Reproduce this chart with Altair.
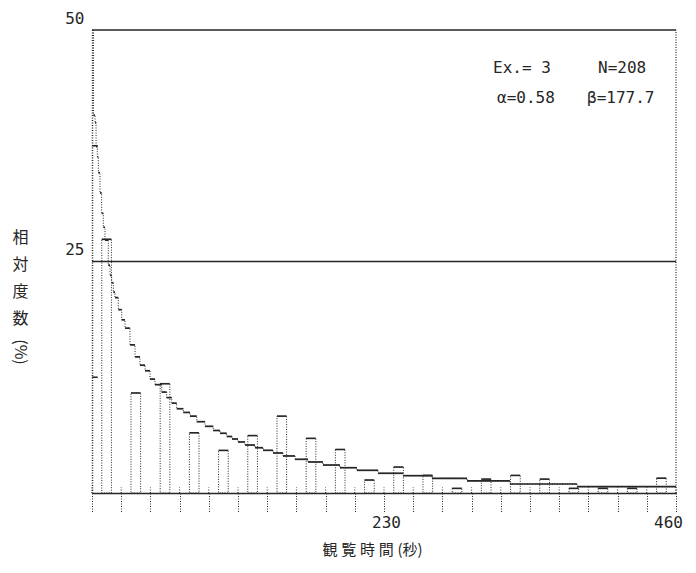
import altair as alt
import pandas as pd

# ---------------- data ----------------
# observed histogram: 23-second classes, drawn as narrow bars at class mid-points
bar_center_s = [11.5, 34.5, 57.5, 80.5, 103.5, 126.5, 149.5, 172.5, 195.5, 218.5,
                241.5, 264.5, 287.5, 310.5, 333.5, 356.5, 379.5, 402.5, 425.5, 448.5]
bar_pct = [27.4, 10.8, 11.8, 6.5, 4.6, 6.2, 8.3, 5.9, 4.7, 1.4,
           2.8, 1.9, 0.5, 1.5, 1.9, 1.5, 0.5, 0.5, 0.5, 1.6]

# fitted curve (plotter staircase) read point by point
curve_s = [1.2, 1.2, 2.4, 3.2, 4.2, 5.0, 6.3, 7.6, 8.9, 10.2,
           12.8, 14.2, 15.5, 16.8, 18.1, 20.7, 23.4, 26.0, 29.9, 33.9,
           37.8, 41.8, 45.7, 49.6, 54.9, 58.8, 62.8, 66.7, 71.9, 77.2,
           82.5, 89.0, 95.5, 100.8, 106.1, 110.3, 115.0, 120.5, 128.4, 134.7,
           142.6, 150.4, 159.9, 170.1, 181.9, 195.3, 208.7, 225.3, 245.0, 267.8,
           295.4, 329.2, 382.0, 460.0]
curve_pct = [50.0, 40.8, 40.0, 37.4, 36.3, 34.6, 32.4, 30.2, 28.7, 27.3,
             24.6, 23.5, 22.7, 21.7, 21.1, 19.8, 18.7, 17.8, 16.0, 14.7,
             13.8, 13.2, 12.3, 11.7, 10.9, 10.3, 9.7, 9.1, 8.7, 8.3,
             7.7, 7.2, 6.75, 6.45, 6.1, 5.83, 5.51, 5.18, 4.89, 4.61,
             4.32, 4.0, 3.64, 3.35, 3.02, 2.73, 2.45, 2.13, 1.87, 1.59,
             1.30, 0.97, 0.68, 0.68]

x_tick_s = [0, 23, 46, 69, 92, 115, 138, 161, 184, 207, 230,
            253, 276, 299, 322, 345, 368, 391, 414, 437, 460]
x_label_s = [230, 460]
y_label_pct = [25, 50]
y_minor_pct = [12.5, 37.5]
frame_pct = [25, 50]
x_max = 460
y_max = 50

title_x = "観\u2005覧\u2005時\u2005間\u2005(秒)"
title_y = ["相", "対", "度", "数"]
title_y_unit = ["(%)"]
ann_text = ["Ex.= 3", "N=208", "α=0.58", "β=177.7"]

# ---------------- styles ----------------
BAR_HALF = 3.8
INK = "#262626"
MONO = "DejaVu Sans Mono"
CJK = "Noto Sans CJK JP"

xscale = alt.Scale(domain=[0, x_max], nice=False, zero=False)
yscale = alt.Scale(domain=[0, y_max], nice=False, zero=False)

lab_test = " || ".join(f"datum.value == {v}" for v in x_label_s)
xaxis = alt.Axis(
    values=x_tick_s,
    labelExpr=f"({lab_test}) ? datum.label : ''",
    grid=False,
    domainColor=INK, domainWidth=1.5,
    tickColor=INK, tickDash=[1, 1.5], tickSize=19, tickWidth=1,
    labelFont=MONO, labelFontSize=16, labelColor=INK, labelPadding=2,
    labelFlush=False,
    labelOffset={"condition": {"test": "datum.value == 460", "value": -8}, "value": 2},
    title=title_x, titleFont=CJK, titleFontSize=15, titleFontWeight="normal",
    titleColor=INK, titleX=280, titleY=56, titleAlign="center", titleBaseline="middle",
)
yaxis = alt.Axis(
    values=y_label_pct,
    ticks=False, grid=False,
    domainColor=INK, domainDash=[1, 1.5], domainWidth=1.5,
    labelFont=MONO, labelFontSize=16, labelColor=INK, labelPadding=8,
    labelBaseline="bottom", labelOffset=-4,
    title=title_y, titleAngle=0, titleFont=CJK, titleFontSize=16,
    titleFontWeight="normal", titleColor=INK, titleX=-72, titleY=199,
    titleAlign="center", titleBaseline="top", titleLineHeight=27,
)

def X(field):
    return alt.X(field, type="quantitative", scale=xscale, axis=xaxis, title=title_x)

def Y(field):
    return alt.Y(field, type="quantitative", scale=yscale, axis=yaxis, title=title_y)

bars_df = pd.DataFrame({"c": bar_center_s, "pct": bar_pct})
bars_df["left"] = bars_df["c"] - BAR_HALF
bars_df["right"] = bars_df["c"] + BAR_HALF
bars_df["zero"] = 0.0

bars = alt.Chart(bars_df).mark_rect(
    fillOpacity=0, stroke=INK, strokeWidth=1, strokeDash=[1, 1.5]
).encode(x=X("left"), x2="right", y=Y("zero"), y2="pct")

tops = alt.Chart(bars_df).mark_rule(color=INK, strokeWidth=1.6).encode(
    x=X("left"), x2="right", y=Y("pct"))

# curve: dotted staircase connections + solid horizontal plotter dashes
curve_df = pd.DataFrame({"s": curve_s, "p": curve_pct})
curve_conn = alt.Chart(curve_df).mark_line(
    color=INK, strokeWidth=1, strokeDash=[1, 1.5], interpolate="step-after", clip=True
).encode(x=X("s"), y=Y("p"), order="s:Q")

seg_df = pd.DataFrame({"s": curve_s[:-1], "e": curve_s[1:], "p": curve_pct[:-1]})
curve_seg = alt.Chart(seg_df).mark_rule(color=INK, strokeWidth=1.7, clip=True).encode(
    x=X("s"), x2="e", y=Y("p"))

frame_df = pd.DataFrame({"p": frame_pct, "a": [0] * len(frame_pct), "b": [x_max] * len(frame_pct)})
frame = alt.Chart(frame_df).mark_rule(color=INK, strokeWidth=1.4).encode(
    x=X("a"), x2="b", y=Y("p"))

right_df = pd.DataFrame({"s": [x_max], "a": [0], "b": [y_max]})
right = alt.Chart(right_df).mark_rule(color=INK, strokeWidth=1.2, strokeDash=[1, 1.5]).encode(
    x=X("s"), y=Y("a"), y2="b")

itick_df = pd.DataFrame({"s": x_tick_s, "a": [0] * len(x_tick_s), "b": [0.6] * len(x_tick_s)})
itick = alt.Chart(itick_df).mark_rule(color=INK, strokeWidth=1, strokeDash=[1, 1.5]).encode(
    x=X("s"), y=Y("a"), y2="b")

ytick_df = pd.DataFrame({"p": y_minor_pct, "a": [0] * len(y_minor_pct), "b": [4.5] * len(y_minor_pct)})
ytick = alt.Chart(ytick_df).mark_rule(color=INK, strokeWidth=1.6).encode(
    x=X("a"), x2="b", y=Y("p"))

unit = alt.Chart(pd.DataFrame({"t": title_y_unit})).mark_text(
    font=CJK, fontSize=16, color=INK, angle=90, align="center", baseline="middle"
).encode(x=alt.value(-72), y=alt.value(322), text="t:N")

ann_pos = [(401, 38), (506, 38), (405, 68), (495, 68)]
anns = []
for t, (px, py) in zip(ann_text, ann_pos):
    anns.append(alt.Chart(pd.DataFrame({"t": [t]})).mark_text(
        font=MONO, fontSize=16, color=INK, align="left", baseline="middle"
    ).encode(x=alt.value(px), y=alt.value(py), text="t:N"))

chart = alt.layer(bars, tops, frame, right, itick, ytick, curve_conn, curve_seg, unit, *anns).properties(
    width=584, height=463,
    autosize=alt.AutoSizeParams(type="none"),
    padding={"left": 92, "top": 30, "right": 20, "bottom": 80},
    background="white",
).configure_view(stroke=None)

chart.save("out.html", embed_options={"renderer": "svg", "actions": False})
